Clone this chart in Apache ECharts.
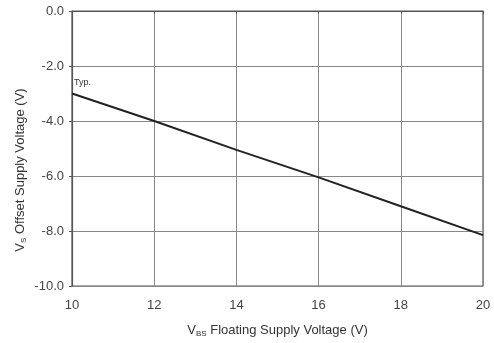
<!DOCTYPE html>
<html><head><meta charset="utf-8">
<script src="https://cdn.jsdelivr.net/npm/echarts@6/dist/echarts.min.js"></script>
<style>html,body{margin:0;padding:0;background:#fff}#c{width:494px;height:343px}</style>
</head><body><div id="c"></div>
<script>
const xValues = [10, 12, 14, 16, 18, 20];
const vsOffset = [-3.0, -4.0, -5.05, -6.05, -7.1, -8.15];
const xTicks = [10, 12, 14, 16, 18, 20];
const yTicks = [0, -2, -4, -6, -8, -10];

const chart = echarts.init(document.getElementById('c'));
const fontFam = 'Liberation Sans, Arial, sans-serif';
chart.setOption({
  animation: false,
  backgroundColor: '#fff',
  grid: {left: 72, right: 11, top: 11, bottom: 55, show: true, borderColor: '#555', borderWidth: 1.2},
  xAxis: {
    type: 'value', min: 10, max: 20, interval: 2,
    name: '{a|V}{s|BS}{a| Floating Supply Voltage (V)}',
    nameLocation: 'middle', nameGap: 37,
    nameTextStyle: {rich: {a: {fontSize: 13, color: '#333', fontFamily: fontFam}, s: {fontSize: 8, color: '#333', fontFamily: fontFam, padding: [7,0,0,0]}}},
    axisLine: {lineStyle: {color: '#555', width: 1.2}},
    axisTick: {show: true, length: 3, lineStyle: {color: '#555'}},
    axisLabel: {fontSize: 13, color: '#444', margin: 13, fontFamily: fontFam},
    splitLine: {show: true, lineStyle: {color: '#888', width: 1}}
  },
  yAxis: {
    type: 'value', min: -10, max: 0, interval: 2,
    axisLine: {show: true, lineStyle: {color: '#555', width: 1.2}},
    axisTick: {show: true, length: 3, lineStyle: {color: '#555'}},
    axisLabel: {fontSize: 13, color: '#444', margin: 8, fontFamily: fontFam, formatter: v => v.toFixed(1)},
    splitLine: {show: true, lineStyle: {color: '#888', width: 1}}
  },
  graphic: [{
    type: 'text', x: 20, y: 170, rotation: Math.PI / 2,
    style: {
      text: '{a|V}{s|S}{a| Offset Supply Voltage (V)}',
      align: 'center', verticalAlign: 'middle',
      rich: {a: {fontSize: 13, fill: '#333', fontFamily: fontFam}, s: {fontSize: 8, fill: '#333', fontFamily: fontFam, padding: [7,0,0,0]}}
    }
  }],
  series: [{
    type: 'line',
    data: xValues.map((x, i) => [x, vsOffset[i]]),
    showSymbol: false, symbol: 'none',
    lineStyle: {color: '#222', width: 2},
    markPoint: {
      symbol: 'circle', symbolSize: 0,
      data: [{coord: [10.05, -2.6], label: {show: true, formatter: 'Typ.', position: 'right', fontSize: 9, color: '#333', fontFamily: fontFam, distance: 0}}]
    }
  }]
});
</script></body></html>
